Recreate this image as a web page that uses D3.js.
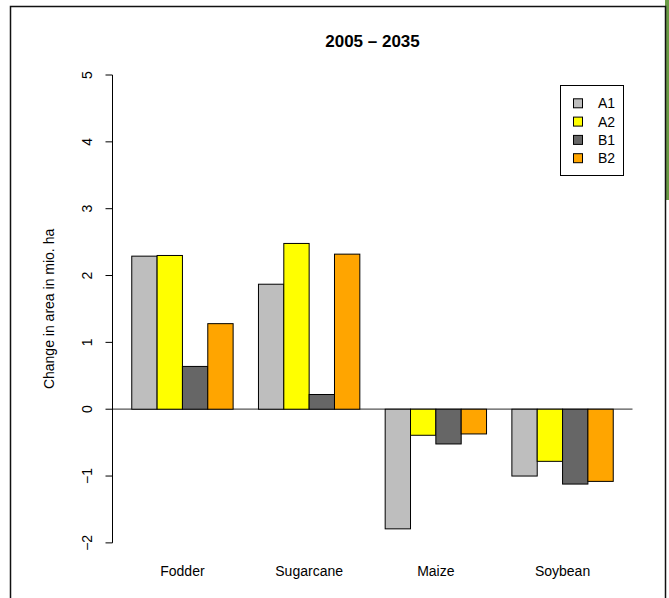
<!DOCTYPE html>
<html><head><meta charset="utf-8">
<script src="https://cdn.jsdelivr.net/npm/d3@7"></script>
<style>body{margin:0;background:#fff;}svg{display:block;font-family:"Liberation Sans",Arial,Helvetica,sans-serif;}</style>
</head><body>
<script>
const categories = ["Fodder", "Sugarcane", "Maize", "Soybean"];
const seriesNames = ["A1", "A2", "B1", "B2"];
const seriesColors = ["#BEBEBE", "#FFFF00", "#666666", "#FFA500"];
const A1 = [2.29, 1.87, -1.79, -1.00];
const A2 = [2.30, 2.48, -0.39, -0.78];
const B1 = [0.64, 0.22, -0.52, -1.12];
const B2 = [1.28, 2.32, -0.37, -1.08];
const yTicks = [-2, -1, 0, 1, 2, 3, 4, 5];
const title = "2005 \u2013 2035";
const yLabel = "Change in area in mio. ha";

const series = [A1, A2, B1, B2];
const W = 669, H = 598;
const svg = d3.select("body").append("svg").attr("width", W).attr("height", H);

// outer frame
svg.append("rect").attr("x", 665).attr("y", 0).attr("width", 4).attr("height", 200).attr("fill", "#6a9a44");
svg.append("path").attr("d", "M10.5,598 L10.5,6.5 L665.5,6.5 L665.5,598").attr("fill", "none").attr("stroke", "#111").attr("stroke-width", 1.5);

// plot region (R-style barplot: space = c(0,1), extended 4%)
const pl = 112.5, pr = 632.5;
const x = d3.scaleLinear().domain([1 - 0.76, 20 + 0.76]).range([pl, pr]);
const y = d3.scaleLinear().domain([-2.28, 5.28]).range([561.6, 56.3]);

// zero line
svg.append("line").attr("x1", pl).attr("x2", pr).attr("y1", y(0)).attr("y2", y(0)).attr("stroke", "#555").attr("stroke-width", 1.2);

// bars
categories.forEach((c, g) => {
  series.forEach((s, k) => {
    const v = s[g];
    const x0 = x(1 + 5 * g + k), x1 = x(2 + 5 * g + k);
    svg.append("rect")
      .attr("x", x0).attr("width", x1 - x0)
      .attr("y", y(Math.max(0, v))).attr("height", Math.abs(y(v) - y(0)))
      .attr("fill", seriesColors[k]).attr("stroke", "#000").attr("stroke-width", 1);
  });
  svg.append("text").attr("x", x(3 + 5 * g)).attr("y", 576).attr("text-anchor", "middle")
    .attr("font-size", 14).attr("fill", "#000").text(c);
});

// y axis
const yAxis = svg.append("g").attr("transform", `translate(${pl},0)`);
yAxis.append("line").attr("x1", 0).attr("x2", 0).attr("y1", y(5)).attr("y2", y(-2)).attr("stroke", "#000");
yTicks.forEach(t => {
  yAxis.append("line").attr("x1", -7).attr("x2", 0).attr("y1", y(t)).attr("y2", y(t)).attr("stroke", "#000");
  yAxis.append("text").attr("transform", `translate(-21,${y(t)}) rotate(-90)`)
    .attr("text-anchor", "middle").attr("font-size", 14).attr("fill", "#000")
    .text(t < 0 ? "\u2212" + Math.abs(t) : String(t));
});
svg.append("text").attr("transform", `translate(54,${(y(5) + y(-2)) / 2}) rotate(-90)`)
  .attr("text-anchor", "middle").attr("font-size", 14).attr("fill", "#000").text(yLabel);

// title
svg.append("text").attr("x", (pl + pr) / 2).attr("y", 47).attr("text-anchor", "middle")
  .attr("font-size", 17).attr("font-weight", "bold").attr("fill", "#000").text(title);

// legend
const lg = svg.append("g");
lg.append("rect").attr("x", 560.5).attr("y", 85.5).attr("width", 63).attr("height", 90)
  .attr("fill", "#fff").attr("stroke", "#000");
seriesNames.forEach((n, i) => {
  const cy = 103.3 + i * 18.3;
  lg.append("rect").attr("x", 573.5).attr("y", cy - 4.5).attr("width", 9).attr("height", 9)
    .attr("fill", seriesColors[i]).attr("stroke", "#000");
  lg.append("text").attr("x", 598).attr("y", cy + 5).attr("font-size", 14).attr("fill", "#000").text(n);
});
</script>
</body></html>
